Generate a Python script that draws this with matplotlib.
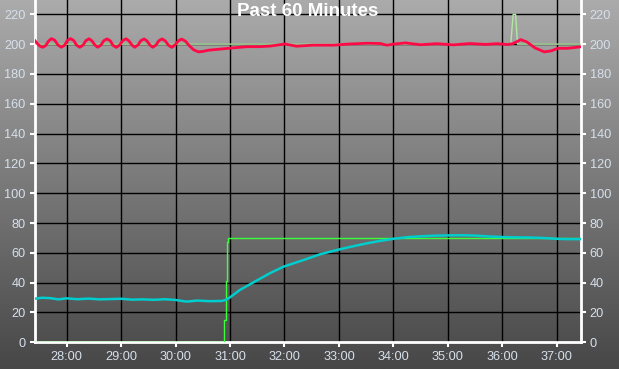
import numpy as np
import matplotlib
matplotlib.use("Agg")
import matplotlib.pyplot as plt

# time axis in minutes (28.0 == 28:00)
tick_pos = [28, 29, 30, 31, 32, 33, 34, 35, 36, 37]
tick_labels = ["28:00", "29:00", "30:00", "31:00", "32:00",
               "33:00", "34:00", "35:00", "36:00", "37:00"]
y_ticks = [0, 20, 40, 60, 80, 100, 120, 140, 160, 180, 200, 220]

# upper setpoint (pale green)
sp1_t = [27.41, 36.156, 36.20, 36.245, 36.28, 37.44]
sp1_v = [200, 200, 220, 220, 200, 200]

# upper process value (red)
pv1_t = [27.41, 27.46, 27.51, 27.56, 27.61, 27.67, 27.72, 27.78, 27.84, 27.90,
         27.96, 28.01, 28.07, 28.13, 28.18, 28.24, 28.30, 28.35, 28.41, 28.46,
         28.52, 28.57, 28.63, 28.68, 28.74, 28.80, 28.85, 28.91, 28.97, 29.03,
         29.09, 29.14, 29.20, 29.25, 29.31, 29.36, 29.42, 29.47, 29.53, 29.58,
         29.64, 29.69, 29.75, 29.81, 29.87, 29.93, 29.99, 30.05, 30.11, 30.18,
         30.25, 30.33, 30.42, 30.50, 30.60, 30.80, 31.00, 31.31, 31.55, 31.74,
         32.01, 32.22, 32.52, 32.90, 33.15, 33.52, 33.76, 33.88, 34.00, 34.22,
         34.50, 34.80, 35.10, 35.40, 35.70, 35.90, 36.10, 36.20, 36.34, 36.45,
         36.60, 36.77, 36.90, 37.02, 37.20, 37.44]
pv1_v = [202.6, 200.4, 198.6, 197.9, 198.9, 202.2, 203.7, 202.6, 199.4, 197.9,
         199.2, 202.4, 203.7, 202.4, 199.3, 197.9, 199.3, 202.3, 203.6, 202.3,
         199.3, 197.9, 199.4, 202.3, 203.5, 202.2, 199.2, 197.8, 199.3, 202.4,
         203.6, 202.3, 199.3, 197.9, 199.4, 202.3, 203.5, 202.3, 199.3, 197.9,
         199.4, 202.2, 203.5, 202.2, 199.2, 197.8, 199.5, 202.2, 203.4, 202.0,
         199.0, 196.2, 194.8, 195.1, 195.9, 196.6, 197.3, 198.3, 198.3, 198.7,
         200.1, 198.6, 199.3, 199.3, 200.0, 200.6, 200.4, 199.3, 200.0, 200.8,
         199.6, 200.3, 199.5, 200.4, 199.8, 200.3, 199.7, 200.4, 203.0, 201.5,
         197.5, 194.8, 195.5, 197.2, 197.2, 198.2]

# lower setpoint (bright green)
sp2_t = [27.41, 30.897, 30.897, 30.92, 30.92, 30.94, 30.94, 30.96, 30.96, 37.44]
sp2_v = [0, 0, 15, 15, 41, 41, 67, 67, 70, 70]

# lower process value (cyan)
pv2_t = [27.41, 27.55, 27.70, 27.85, 28.00, 28.20, 28.40, 28.60, 28.80, 29.00,
         29.20, 29.40, 29.60, 29.80, 30.00, 30.20, 30.40, 30.60, 30.84, 30.92,
         31.00, 31.18, 31.42, 31.73, 31.98, 32.35, 32.65, 32.96, 33.17, 33.50,
         33.75, 34.00, 34.25, 34.50, 34.75, 35.00, 35.25, 35.50, 35.75, 36.00,
         36.25, 36.50, 36.75, 37.00, 37.20, 37.44]
pv2_v = [29.2, 29.9, 29.6, 28.8, 29.5, 28.9, 29.3, 28.8, 29.0, 29.2,
         28.6, 28.8, 28.5, 28.9, 28.4, 27.3, 28.0, 27.6, 27.7, 28.4,
         30.2, 35.1, 40.0, 46.3, 50.7, 55.2, 59.0, 61.9, 63.7, 66.3,
         68.0, 69.4, 70.5, 71.1, 71.5, 71.7, 71.8, 71.6, 71.0, 70.6,
         70.4, 70.3, 70.0, 69.4, 69.2, 69.2]

W, H = 619, 369
fig = plt.figure(figsize=(W / 100, H / 100), dpi=100)

# gradient background over the whole figure
bg = fig.add_axes([0, 0, 1, 1], zorder=-1)
grad = np.linspace(0xAB, 0x47, 256)[:, None] / 255.0
bg.imshow(np.dstack([grad, grad, grad]), aspect="auto", extent=[0, 1, 0, 1])
bg.axis("off")

x0, x1 = 34.7, 580.5
ybot = 342.3
ax = fig.add_axes([x0 / W, 1 - ybot / H, (x1 - x0) / W, ybot / H])
ax.patch.set_alpha(0)

ax.plot(sp1_t, sp1_v, color="#B4E6A4", lw=1.0, zorder=3)
ax.plot(sp2_t, sp2_v, color="#3CFF3C", lw=1.0, zorder=3)
ax.plot(pv1_t, pv1_v, color="#FF0A46", lw=2.0, zorder=4)
ax.plot(pv2_t, pv2_v, color="#00CDCD", lw=1.8, zorder=4)

ax.set_xlim(27.412, 37.437)
ax.set_ylim(0, 229.6)
ax.set_xticks(tick_pos)
ax.set_xticklabels(tick_labels)
ax.set_yticks(y_ticks)

ax.grid(True, color="black", lw=1.0)
ax.set_axisbelow(True)

for side in ["left", "bottom", "right"]:
    ax.spines[side].set_color("white")
    ax.spines[side].set_linewidth(2)
ax.spines["top"].set_visible(False)

lab = "#D6E0EC"
ax.tick_params(axis="both", colors="white", labelcolor=lab, length=3.5,
               width=1.5, labelsize=9.2, pad=3)
ax.tick_params(axis="y", right=True, labelright=True)
for t in ax.get_xticklabels() + ax.get_yticklabels():
    t.set_fontfamily("Liberation Sans")
for tk in ax.yaxis.get_major_ticks():
    tk.label2.set_fontfamily("Liberation Sans")

fig.text((x0 + x1) / 2 / W, 1 - 11 / H, "Past 60 Minutes", color="white",
         fontsize=13.5, fontweight="bold", family="Liberation Sans",
         ha="center", va="center")

fig.savefig("out.png", dpi=100)
